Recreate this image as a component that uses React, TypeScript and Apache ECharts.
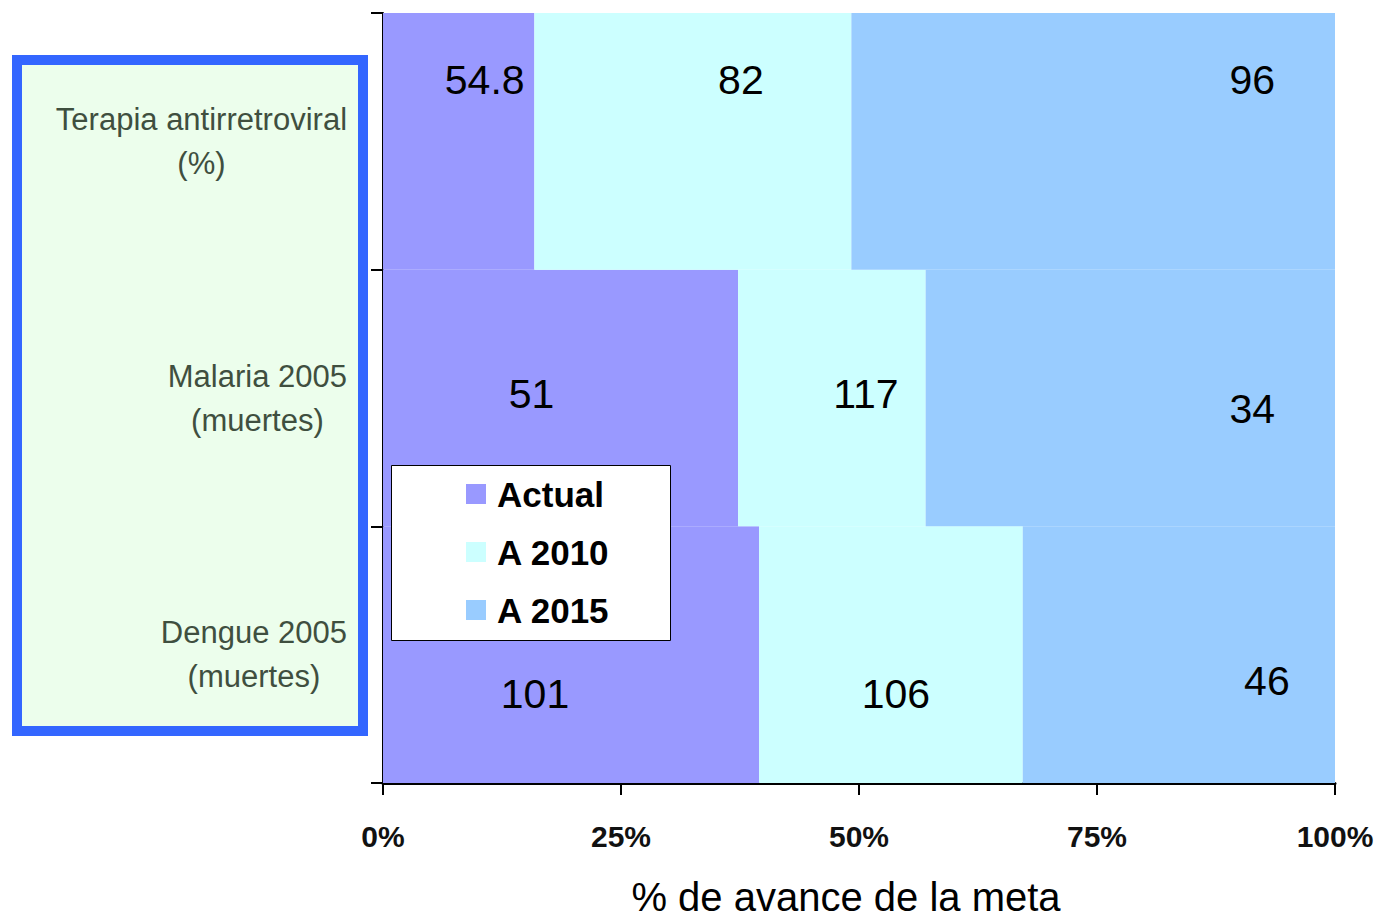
import React, { useEffect, useRef } from "react";
import * as echarts from "echarts";

// Categories bottom-to-top (ECharts category axis order)
const categories = [
  "Dengue 2005\n(muertes)",
  "Malaria 2005\n(muertes)",
  "Terapia antirretroviral\n(%)",
];
const seriesNames = ["Actual", "A 2010", "A 2015"];
// Share of the bar (% of goal advance) per series
const actualShare = [39.5, 37.3, 15.9];
const a2010Share = [27.7, 19.7, 33.3];
const a2015Share = [32.8, 43.0, 50.8];
// Numbers printed on the bars
const actualLabels = ["101", "51", "54.8"];
const a2010Labels = ["106", "117", "82"];
const a2015Labels = ["46", "34", "96"];
const xTicks = [0, 25, 50, 75, 100];

// Layout: label offsets (px) relative to the segment centre
const labelOffsets = [
  [[-36, 39], [-29, -4], [26, -61]],
  [[5, 39], [34, -4], [48, -61]],
  [[88, 26], [122, 11], [159, -61]],
];
const colors = ["#9999FF", "#CCFFFF", "#99CCFF"];
const SANS = '"Liberation Sans", Arial, sans-serif';

export default function App() {
  const ref = useRef<HTMLDivElement>(null);
  useEffect(() => {
    if (!ref.current) return;
    const chart = echarts.init(ref.current, undefined, { renderer: "svg" });
    const shares = [actualShare, a2010Share, a2015Share];
    const labels = [actualLabels, a2010Labels, a2015Labels];
    const series = seriesNames.map((name, si) => ({
      name,
      type: "bar",
      stack: "total",
      barCategoryGap: "0%",
      itemStyle: { color: colors[si] },
      data: shares[si].map((v, ci) => ({
        value: v,
        label: {
          show: true,
          position: "inside",
          offset: labelOffsets[si][ci],
          formatter: () => labels[si][ci],
          color: "#000",
          fontSize: 41,
          fontFamily: SANS,
        },
      })),
    }));
    chart.setOption({
      animation: false,
      backgroundColor: "#fff",
      graphic: [
        {
          type: "rect",
          z: -10,
          shape: { x: 17, y: 60, width: 346, height: 671 },
          style: { fill: "#ECFEEC", stroke: "#3366FF", lineWidth: 10 },
        },
        {
          type: "rect",
          z: 3,
          shape: { x: 391.5, y: 465.5, width: 279, height: 175 },
          style: { fill: "#fff", stroke: "#000", lineWidth: 1 },
        },
      ],
      grid: { left: 383, right: 44, top: 13, bottom: 141, outerBoundsMode: "none", containLabel: false },
      legend: {
        data: seriesNames,
        orient: "vertical",
        left: 466,
        top: 474,
        padding: 0,
        itemWidth: 20,
        itemHeight: 20,
        itemGap: 18,
        icon: "rect",
        textStyle: {
          fontSize: 35,
          fontWeight: "bold",
          fontFamily: SANS,
          color: "#000",
          lineHeight: 40,
          padding: [0, 0, 0, 6],
        },
      },
      xAxis: {
        type: "value",
        min: 0,
        max: 100,
        interval: 25,
        name: "% de avance de la meta",
        nameLocation: "middle",
        nameGap: 94,
        nameTextStyle: {
          fontSize: 40,
          fontFamily: SANS,
          color: "#000",
          padding: [0, 26, 0, 0],
        },
        axisLine: { show: true, lineStyle: { color: "#000", width: 3 } },
        axisTick: { show: true, length: 12, lineStyle: { color: "#000", width: 2 } },
        splitLine: { show: false },
        axisLabel: {
          margin: 38,
          fontSize: 30,
          fontWeight: "bold",
          fontFamily: SANS,
          color: "#111",
          formatter: (v: number) => (xTicks.includes(v) ? v + "%" : ""),
        },
      },
      yAxis: {
        type: "category",
        data: categories,
        axisLine: { show: true, lineStyle: { color: "#000", width: 2 } },
        axisTick: { show: true, length: 12, lineStyle: { color: "#000", width: 2 } },
        axisLabel: {
          margin: 36,
          align: "right",
          formatter: (v: string) =>
            v
              .split("\n")
              .map((l) => `{c|${l}}`)
              .join("\n"),
          rich: {
            c: {
              align: "center",
              fontSize: 31,
              lineHeight: 44,
              fontFamily: SANS,
              color: "#3F4F3F",
            },
          },
        },
      },
      series,
    });
    return () => chart.dispose();
  }, []);
  return (
    <div
      ref={ref}
      style={{ position: "fixed", left: 0, top: 0, width: 1379, height: 924 }}
    />
  );
}
